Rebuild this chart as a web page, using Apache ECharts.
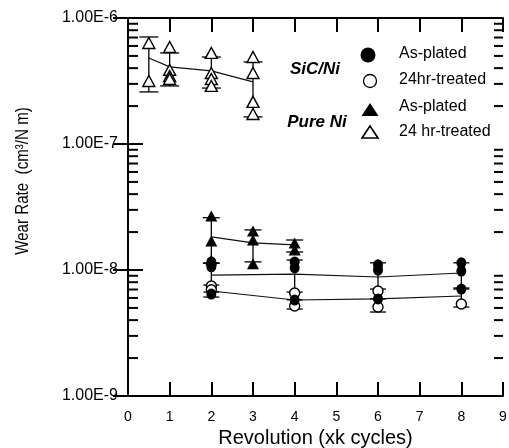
<!DOCTYPE html>
<html><head><meta charset="utf-8">
<script src="https://cdn.jsdelivr.net/npm/echarts@6/dist/echarts.min.js"></script>
<style>html,body{margin:0;padding:0;background:#fff}#c{width:509px;height:448px}</style>
</head><body><div id="c"></div>
<script>
// ---- axis ticks ----
const xTickValues = [0, 1, 2, 3, 4, 5, 6, 7, 8, 9];
const yMajorTicks = [1e-9, 1e-8, 1e-7, 1e-6];
const yMinorTicks = [2e-9, 3e-9, 4e-9, 5e-9, 6e-9, 7e-9, 8e-9, 9e-9,
                     2e-8, 3e-8, 4e-8, 5e-8, 6e-8, 7e-8, 8e-8, 9e-8,
                     2e-7, 3e-7, 4e-7, 5e-7, 6e-7, 7e-7, 8e-7, 9e-7];

// ---- Pure Ni, 24 hr-treated (open triangles) ----
const niTreatedPoints = [[0.5, 6.33e-7], [0.5, 3.16e-7],
  [1, 5.89e-7], [1, 3.87e-7], [1, 3.46e-7], [1, 3.28e-7],
  [2, 5.28e-7], [2, 3.66e-7], [2, 3.28e-7], [2, 2.89e-7],
  [3, 4.90e-7], [3, 3.66e-7], [3, 2.16e-7], [3, 1.73e-7]];
const niTreatedMean = [[0.5, 4.82e-7], [1, 4.09e-7], [2, 3.80e-7], [3, 3.11e-7]];
const niTreatedErr = [[0.5, 2.59e-7, 7.07e-7], [1, 2.89e-7, 5.28e-7], [2, 2.78e-7, 4.90e-7], [3, 1.64e-7, 4.48e-7]];

// ---- Pure Ni, As-plated (filled triangles) ----
const niPlatedPoints = [[2, 2.68e-8], [2, 1.70e-8], [2, 1.20e-8],
  [3, 2.04e-8], [3, 1.73e-8], [3, 1.12e-8],
  [4, 1.64e-8], [4, 1.44e-8]];
const niPlatedMean = [[2, 1.83e-8], [3, 1.64e-8], [4, 1.58e-8]];
const niPlatedErr = [[2, 1.13e-8, 2.6e-8], [3, 1.16e-8, 2.08e-8], [4, 1.39e-8, 1.73e-8]];

// ---- SiC/Ni, As-plated (filled circles) ----
const sicPlatedPoints = [[2, 1.16e-8], [2, 1.06e-8], [2, 6.45e-9],
  [4, 1.16e-8], [4, 1.04e-8], [4, 5.78e-9],
  [6, 1.10e-8], [6, 1.0e-8], [6, 5.89e-9],
  [8, 1.14e-8], [8, 9.8e-9], [8, 7.06e-9]];
const sicPlatedMean = [[2, 9.12e-9], [4, 9.29e-9], [6, 8.8e-9], [8, 9.47e-9]];
const sicPlatedErr = [[2, 6.1e-9, 1.14e-8], [4, 5.8e-9, 1.2e-8], [6, 5.9e-9, 1.14e-8], [8, 7.06e-9, 1.14e-8]];

// ---- SiC/Ni, 24hr-treated (open circles) ----
const sicTreatedPoints = [[2, 7.46e-9], [2, 6.97e-9],
  [4, 6.57e-9], [4, 5.18e-9],
  [6, 6.81e-9], [6, 5.08e-9],
  [8, 5.37e-9]];
const sicTreatedMean = [[2, 6.81e-9], [4, 5.78e-9], [6, 5.89e-9], [8, 6.22e-9]];
const sicTreatedErr = [[2, 6.68e-9, 7.6e-9], [4, 4.9e-9, 6.68e-9], [6, 4.64e-9, 7.06e-9], [8, 5.08e-9, 7.2e-9]];

// ---- legend labels ----
const groupLabels = ['SiC/Ni', 'Pure Ni'];
const legendLabels = ['As-plated', '24hr-treated', 'As-plated', '24 hr-treated'];

const FONT = "'Liberation Sans', Arial, sans-serif";
const chart = echarts.init(document.getElementById('c'), null, {renderer: 'canvas'});

function errSeries(data, capW) {
  return {
    type: 'custom', data: data, z: 3, silent: true,
    encode: {x: 0, y: [1, 2]},
    renderItem: function (params, api) {
      const x = api.value(0);
      const lo = api.coord([x, api.value(1)]);
      const hi = api.coord([x, api.value(2)]);
      const w = capW / 2;
      const st = {stroke: '#000', lineWidth: 1.3};
      return {type: 'group', children: [
        {type: 'line', shape: {x1: lo[0], y1: lo[1], x2: hi[0], y2: hi[1]}, style: st},
        {type: 'line', shape: {x1: lo[0] - w, y1: lo[1], x2: lo[0] + w, y2: lo[1]}, style: st},
        {type: 'line', shape: {x1: hi[0] - w, y1: hi[1], x2: hi[0] + w, y2: hi[1]}, style: st}
      ]};
    }
  };
}
function meanSeries(data) {
  return {type: 'line', data: data, symbol: 'none', z: 2, silent: true,
    lineStyle: {color: '#111', width: 1.2}};
}
function ptSeries(data, symbol, size, filled, z) {
  return {type: 'scatter', data: data, symbol: symbol, symbolSize: size, z: z, silent: true,
    itemStyle: {color: filled ? '#000' : '#fff', borderColor: '#000', borderWidth: filled ? 0 : 1.4, opacity: 1}};
}

const minorTickSeries = {
  type: 'custom', z: 10, silent: true,
  data: yMinorTicks.map(v => [0, v]),
  encode: {x: 0, y: 1},
  renderItem: function (params, api) {
    const v = api.value(1);
    const a = api.coord([0, v]);
    const b = api.coord([9, v]);
    const st = {stroke: '#000', lineWidth: 2};
    return {type: 'group', children: [
      {type: 'line', shape: {x1: a[0], y1: a[1], x2: a[0] + 10, y2: a[1]}, style: st},
      {type: 'line', shape: {x1: b[0] - 9, y1: b[1], x2: b[0], y2: b[1]}, style: st}
    ]};
  }
};

const axisLineStyle = {color: '#000', width: 2};
const yLog = {type: 'log', logBase: 10, min: yMajorTicks[0], max: yMajorTicks[yMajorTicks.length - 1]};

const lx = 370;
const option = {
  animation: false,
  backgroundColor: '#fff',
  grid: {left: 128, right: 6, top: 18, bottom: 52, containLabel: false, outerBoundsMode: 'none'},
  xAxis: [{
    type: 'value', min: xTickValues[0], max: xTickValues[xTickValues.length - 1], interval: 1,
    position: 'bottom',
    axisLine: {lineStyle: axisLineStyle},
    axisTick: {inside: true, length: 14, lineStyle: {color: '#000', width: 2}},
    axisLabel: {color: '#000', fontFamily: FONT, fontSize: 14, margin: 14},
    splitLine: {show: false},
    name: 'Revolution (xk cycles)', nameLocation: 'middle', nameGap: 32,
    nameTextStyle: {color: '#000', fontFamily: FONT, fontSize: 20}
  }, {
    type: 'value', min: xTickValues[0], max: xTickValues[xTickValues.length - 1], interval: 1,
    position: 'top',
    axisLine: {lineStyle: axisLineStyle},
    axisTick: {inside: true, length: 14, lineStyle: {color: '#000', width: 2}},
    axisLabel: {show: false}, splitLine: {show: false}
  }],
  yAxis: [Object.assign({}, yLog, {
    position: 'left',
    axisLine: {lineStyle: axisLineStyle},
    axisTick: {inside: true, length: 15, lineStyle: {color: '#000', width: 2}},
    axisLabel: {color: '#000', fontFamily: FONT, fontSize: 16, margin: 10,
      formatter: v => Number(v).toExponential(2).toUpperCase()},
    splitLine: {show: false}
  }), Object.assign({}, yLog, {
    position: 'right',
    axisLine: {lineStyle: axisLineStyle},
    axisTick: {inside: true, length: 15, lineStyle: {color: '#000', width: 2}},
    axisLabel: {show: false}, splitLine: {show: false}
  })],
  graphic: [
    {type: 'text', x: 23, y: 181, rotation: Math.PI / 2, scaleX: 0.84,
      style: {text: 'Wear Rate  (cm³/N m)', fontFamily: FONT, fontSize: 18, fill: '#000', align: 'center', verticalAlign: 'middle'}},
    {type: 'text', x: 315, y: 69, style: {text: groupLabels[0], fontFamily: FONT, fontSize: 17, fontWeight: 'bold', fontStyle: 'italic', fill: '#000', align: 'center', verticalAlign: 'middle'}},
    {type: 'text', x: 317, y: 122, style: {text: groupLabels[1], fontFamily: FONT, fontSize: 17, fontWeight: 'bold', fontStyle: 'italic', fill: '#000', align: 'center', verticalAlign: 'middle'}},
    {type: 'circle', shape: {cx: 368, cy: 55, r: 7.5}, style: {fill: '#000'}},
    {type: 'circle', shape: {cx: 370, cy: 81, r: 6.5}, style: {fill: '#fff', stroke: '#000', lineWidth: 1.3}},
    {type: 'polygon', shape: {points: [[lx, 103], [lx + 8.5, 116], [lx - 8.5, 116]]}, style: {fill: '#000'}},
    {type: 'polygon', shape: {points: [[lx, 126], [lx + 8, 138], [lx - 8, 138]]}, style: {fill: '#fff', stroke: '#000', lineWidth: 1.6}},
    {type: 'text', x: 399, y: 54, style: {text: legendLabels[0], fontFamily: FONT, fontSize: 16, fill: '#000', align: 'left', verticalAlign: 'middle'}},
    {type: 'text', x: 399, y: 80, style: {text: legendLabels[1], fontFamily: FONT, fontSize: 16, fill: '#000', align: 'left', verticalAlign: 'middle'}},
    {type: 'text', x: 399, y: 107, style: {text: legendLabels[2], fontFamily: FONT, fontSize: 16, fill: '#000', align: 'left', verticalAlign: 'middle'}},
    {type: 'text', x: 399, y: 132, style: {text: legendLabels[3], fontFamily: FONT, fontSize: 16, fill: '#000', align: 'left', verticalAlign: 'middle'}}
  ],
  series: [
    minorTickSeries,
    meanSeries(niTreatedMean), meanSeries(niPlatedMean), meanSeries(sicPlatedMean), meanSeries(sicTreatedMean),
    errSeries(niTreatedErr, 19), errSeries(niPlatedErr, 17), errSeries(sicPlatedErr, 16), errSeries(sicTreatedErr, 16),
    ptSeries(niTreatedPoints, 'triangle', [12, 11], false, 4),
    ptSeries(sicTreatedPoints, 'circle', 10, false, 4),
    ptSeries(niPlatedPoints, 'triangle', [12, 11], true, 5),
    ptSeries(sicPlatedPoints, 'circle', [10, 11], true, 5)
  ]
};
chart.setOption(option);
</script></body></html>
